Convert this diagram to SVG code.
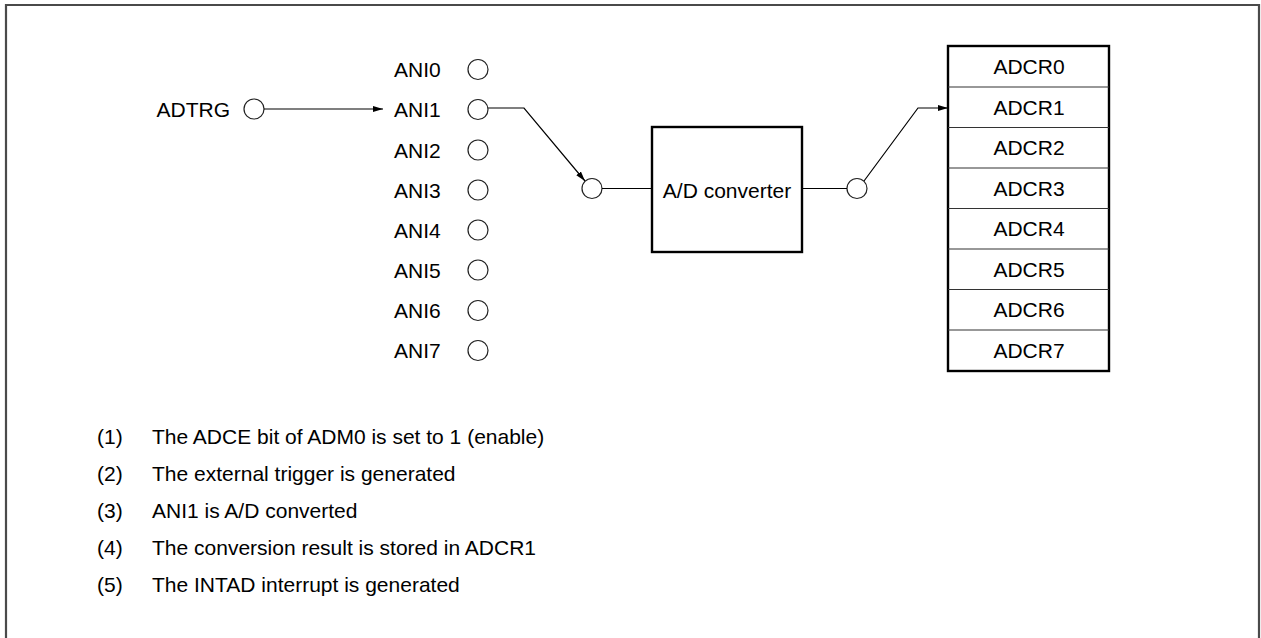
<svg xmlns="http://www.w3.org/2000/svg" width="1261" height="638" viewBox="0 0 1261 638">
<defs>
<style>
text{font-family:"Liberation Sans",Arial,sans-serif;font-size:21px;fill:#000}
.pin{fill:#fff;stroke:#222;stroke-width:1.2}
.wire{fill:none;stroke:#000;stroke-width:1.2}
.box{fill:#fff;stroke:#000;stroke-width:2.4}
.sep{stroke:#333;stroke-width:1.2}
</style>
<marker id="arr" viewBox="0 0 10 6" refX="10" refY="3" markerWidth="10" markerHeight="6" markerUnits="userSpaceOnUse" orient="auto">
<path d="M0,0 L10,3 L0,6 Z" fill="#000"/>
</marker>
</defs>
<rect width="1261" height="638" fill="#fff"/>
<path d="M6,660 V5 H1259 V660" fill="none" stroke="#4a4a4a" stroke-width="2.2"/>

<g id="adtrg">
<text x="230" y="116.5" text-anchor="end">ADTRG</text>
<circle class="pin" cx="254" cy="109" r="10"/>
</g>

<g id="ani-pins">
<g id="ani0"><text x="394" y="77">ANI0</text><circle class="pin" cx="478" cy="69.5" r="10"/></g>
<g id="ani1"><text x="394" y="117">ANI1</text><circle class="pin" cx="478" cy="109.5" r="10"/></g>
<g id="ani2"><text x="394" y="157.5">ANI2</text><circle class="pin" cx="478" cy="150" r="10"/></g>
<g id="ani3"><text x="394" y="197.5">ANI3</text><circle class="pin" cx="478" cy="190" r="10"/></g>
<g id="ani4"><text x="394" y="237.5">ANI4</text><circle class="pin" cx="478" cy="230" r="10"/></g>
<g id="ani5"><text x="394" y="277.5">ANI5</text><circle class="pin" cx="478" cy="270" r="10"/></g>
<g id="ani6"><text x="394" y="318">ANI6</text><circle class="pin" cx="478" cy="310.5" r="10"/></g>
<g id="ani7"><text x="394" y="358">ANI7</text><circle class="pin" cx="478" cy="350.5" r="10"/></g>
</g>

<g id="adc-in"><circle class="pin" cx="592" cy="188.5" r="10"/></g>
<g id="adc">
<rect class="box" x="652" y="127" width="150" height="125"/>
<text x="727" y="197.5" text-anchor="middle">A/D converter</text>
</g>
<g id="adc-out"><circle class="pin" cx="857" cy="188.5" r="10"/></g>

<g id="adcr">
<rect class="box" x="948" y="46" width="161" height="325"/>
<line class="sep" x1="948" y1="87" x2="1109" y2="87"/>
<line class="sep" x1="948" y1="127.5" x2="1109" y2="127.5"/>
<line class="sep" x1="948" y1="168" x2="1109" y2="168"/>
<line class="sep" x1="948" y1="208.5" x2="1109" y2="208.5"/>
<line class="sep" x1="948" y1="249" x2="1109" y2="249"/>
<line class="sep" x1="948" y1="289.5" x2="1109" y2="289.5"/>
<line class="sep" x1="948" y1="330" x2="1109" y2="330"/>
<text x="1029" y="74" text-anchor="middle">ADCR0</text>
<text x="1029" y="114.5" text-anchor="middle">ADCR1</text>
<text x="1029" y="155" text-anchor="middle">ADCR2</text>
<text x="1029" y="195.5" text-anchor="middle">ADCR3</text>
<text x="1029" y="236" text-anchor="middle">ADCR4</text>
<text x="1029" y="276.5" text-anchor="middle">ADCR5</text>
<text x="1029" y="317" text-anchor="middle">ADCR6</text>
<text x="1029" y="358" text-anchor="middle">ADCR7</text>
</g>

<g id="connectors">
<line class="wire" x1="264" y1="109" x2="383" y2="109" marker-end="url(#arr)"/>
<polyline class="wire" points="488,108 524,108 585,181" marker-end="url(#arr)"/>
<line class="wire" x1="602" y1="188.5" x2="652" y2="188.5"/>
<line class="wire" x1="802" y1="188.5" x2="847" y2="188.5"/>
<polyline class="wire" points="864,181 918,108 948,108" marker-end="url(#arr)"/>
</g>

<g id="notes">
<text x="97" y="444">(1)</text><text x="152" y="444">The ADCE bit of ADM0 is set to 1 (enable)</text>
<text x="97" y="481">(2)</text><text x="152" y="481">The external trigger is generated</text>
<text x="97" y="518">(3)</text><text x="152" y="518">ANI1 is A/D converted</text>
<text x="97" y="555">(4)</text><text x="152" y="555">The conversion result is stored in ADCR1</text>
<text x="97" y="592">(5)</text><text x="152" y="592">The INTAD interrupt is generated</text>
</g>
</svg>
